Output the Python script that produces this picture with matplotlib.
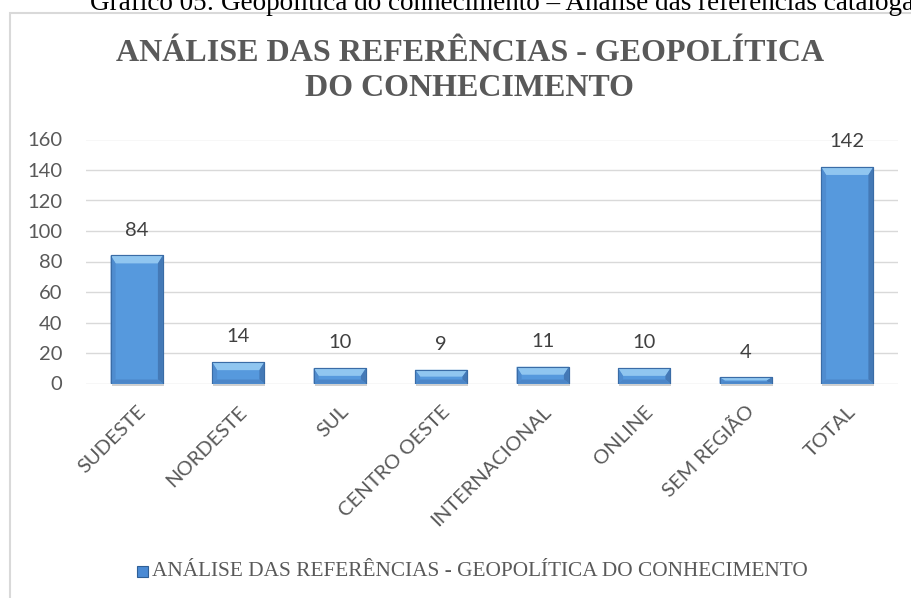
import matplotlib
matplotlib.use("Agg")
import matplotlib.pyplot as plt
from matplotlib.patches import Rectangle, Polygon
import numpy as np

categories = ["SUDESTE", "NORDESTE", "SUL", "CENTRO OESTE", "INTERNACIONAL", "ONLINE", "SEM REGIÃO", "TOTAL"]
values = [84, 14, 10, 9, 11, 10, 4, 142]
yticks = [0, 20, 40, 60, 80, 100, 120, 140, 160]
series_name = "ANÁLISE DAS REFERÊNCIAS - GEOPOLÍTICA DO CONHECIMENTO"
chart_title = "ANÁLISE DAS REFERÊNCIAS - GEOPOLÍTICA\nDO CONHECIMENTO"
caption = "Gráfico 05: Geopolítica do conhecimento – Análise das referências catalogadas"

W, H = 912, 598
fig = plt.figure(figsize=(W/100, H/100), dpi=100)
fig.patch.set_facecolor("white")

# outer chart frame
fig.add_artist(Rectangle((10.5/W, -0.01), 1.0, (H-12.5)/H + 0.01, transform=fig.transFigure,
                         fill=False, edgecolor="#D9D9D9", linewidth=1.5))

# caption at top (partly cut off, as in the reference)
fig.text(90/W, 1 - 10/H, caption, family="Liberation Serif", fontsize=19.5, color="black",
         ha="left", va="baseline")

# title
fig.text(470/W, 1 - 71/H, chart_title, family="Liberation Serif", fontweight="bold",
         fontsize=23, color="#595959", ha="center", va="center", linespacing=1.28)

ax = fig.add_axes([86/W, (H-383.5)/H, 812/W, 244/H])
x = np.arange(len(categories))
bw_frac = 0.515
bars = ax.bar(x, values, width=bw_frac, color="#5699DD", edgecolor="#3A6CA6", linewidth=0.8, zorder=3)

# bevel effect (sizes in pixels converted to data units)
px_x = 1.0 / (812 / len(categories))
px_y = 160.0 / 244
for b in bars:
    x0, w, h = b.get_x(), b.get_width(), b.get_height()
    x1 = x0 + w
    sx = 5 * px_x
    sy = min(8 * px_y, h / 2)
    sb = min(4 * px_y, h / 3)
    # shadow
    ax.add_patch(Rectangle((x0 + 1*px_x, -2.2*px_y), w, 2.2*px_y, facecolor="#D0D0D0",
                           edgecolor="none", zorder=2.5, clip_on=False))
    ax.add_patch(Polygon([(x0, h), (x1, h), (x1 - sx, h - sy), (x0 + sx, h - sy)],
                         closed=True, facecolor="#90C6F0", edgecolor="none", zorder=3.5))
    ax.add_patch(Polygon([(x0, 0), (x0, h), (x0 + sx, h - sy), (x0 + sx, sb)],
                         closed=True, facecolor="#4F8CCF", edgecolor="none", zorder=3.5))
    ax.add_patch(Polygon([(x1, 0), (x1, h), (x1 - sx, h - sy), (x1 - sx, sb)],
                         closed=True, facecolor="#4479B6", edgecolor="none", zorder=3.5))
    ax.add_patch(Polygon([(x0, 0), (x1, 0), (x1 - sx, sb), (x0 + sx, sb)],
                         closed=True, facecolor="#4C86C8", edgecolor="none", zorder=3.5))
    ax.add_patch(Rectangle((x0, 0), w, h, fill=False, edgecolor="#3A6CA6", linewidth=0.8, zorder=3.6))

for xi, v in zip(x, values):
    ax.text(xi, v + 11, str(v), ha="center", va="bottom", family="Lato", fontsize=14.5, color="#404040")

ax.set_ylim(0, 160)
ax.set_xlim(-0.5, len(categories) - 0.5)
ax.set_yticks(yticks)
ax.set_yticklabels([str(t) for t in yticks], family="Lato", fontsize=14.5, color="#595959")
ax.set_xticks(x)
ax.set_xticklabels(categories, rotation=45, ha="right", rotation_mode="anchor",
                   family="Lato", fontsize=14.5, color="#595959")
ax.tick_params(axis="y", length=0, pad=17)
ax.tick_params(axis="x", length=0, pad=14)
ax.grid(axis="y", color="#D9D9D9", linewidth=1.0, zorder=0)
for s in ax.spines.values():
    s.set_visible(False)
ax.set_facecolor("none")

# legend
fig.add_artist(Rectangle((137/W, 1 - 577/H), 11/W, 11/H, transform=fig.transFigure,
                         facecolor="#4A8AD4", edgecolor="#2F5F96", linewidth=0.8))
fig.text(152/W, 1 - 571/H, series_name, family="Liberation Serif", fontsize=15.3,
         color="#595959", ha="left", va="center")

fig.savefig("out.png", dpi=100)
